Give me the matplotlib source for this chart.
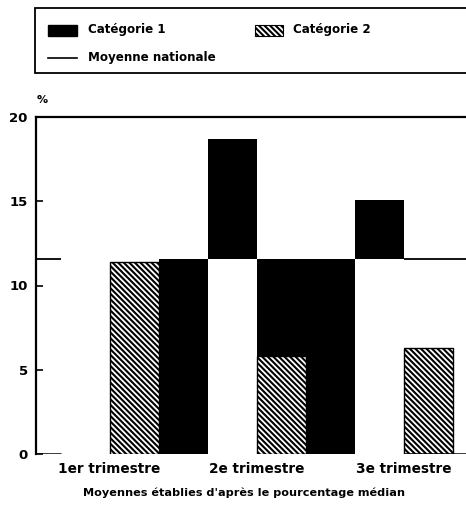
import matplotlib.pyplot as plt
from matplotlib.patches import Rectangle
from matplotlib.lines import Line2D

# Data
trimestres = ['1er trimestre', '2e trimestre', '3e trimestre']
categorie_1 = [11.6, 18.7, 15.1]
categorie_2 = [11.4, 5.8, 6.3]
moyenne_nationale = 11.6
y_ticks = [0, 5, 10, 15, 20]

plt.rcParams['font.family'] = 'DejaVu Sans'
plt.rcParams['font.weight'] = 'bold'
plt.rcParams['hatch.linewidth'] = 1.5

W, H = 466, 515
fig = plt.figure(figsize=(W / 100, H / 100), dpi=100)
ax = fig.add_axes([36 / W, 1 - 454 / H, 1 - 36 / W, (454 - 117) / H])

# one category every three bar widths
pos = [3 * i for i in range(len(trimestres))]
xmin, xmax = -1.5, 7.27
hatch = '\\\\\\\\\\\\'

# Catégorie 1 (black)
ax.bar(pos[0] + 1, categorie_1[0], width=1, align='edge', color='black', zorder=2)
for p, v in zip(pos[1:], categorie_1[1:]):
    ax.bar(p - 1, v - moyenne_nationale, bottom=moyenne_nationale, width=1,
           align='edge', color='black', zorder=2)
# solid block under the national average in the 2nd quarter
ax.bar(pos[1], moyenne_nationale, width=2, align='edge', color='black', zorder=2)

# Catégorie 2 (hatched)
ax.bar(pos, categorie_2, width=1, align='edge', facecolor='white',
       edgecolor='black', hatch=hatch, linewidth=1, zorder=3)

# Moyenne nationale and baseline fragments
ax.hlines(moyenne_nationale, xmin, xmin + 0.5, color='black', lw=1.3, zorder=4)
ax.hlines(moyenne_nationale, pos[2], xmax, color='black', lw=1.3, zorder=4)
ax.hlines(0, xmin, xmin + 0.5, color='black', lw=1.8, zorder=4)
ax.hlines(0, pos[2], xmax, color='black', lw=1.8, zorder=4)

ax.set_xlim(xmin, xmax)
ax.set_ylim(0, 20)
ax.set_yticks(y_ticks)
ax.set_yticklabels([str(t) for t in y_ticks], fontsize=9.5, fontweight='bold')
ax.set_xticks(pos)
ax.set_xticklabels(trimestres, fontsize=9.8, fontweight='bold')
ax.tick_params(axis='y', direction='in', length=5, width=1.2, pad=6)
ax.tick_params(axis='x', length=0, pad=6)

for s in ['bottom', 'right']:
    ax.spines[s].set_visible(False)
ax.spines['left'].set_linewidth(1.6)
ax.spines['top'].set_linewidth(1.6)

fig.text(37 / W, 1 - 100 / H, '%', fontsize=8, fontweight='bold', va='center')

# Legend box
fig.patches.append(Rectangle((35 / W, 1 - 73 / H), 440 / W, 65 / H, transform=fig.transFigure,
                             facecolor='white', edgecolor='black', lw=1.3))
fig.patches.append(Rectangle((48 / W, 1 - 36 / H), 29 / W, 11 / H, transform=fig.transFigure,
                             facecolor='black', edgecolor='black'))
fig.patches.append(Rectangle((255 / W, 1 - 36 / H), 28 / W, 11 / H, transform=fig.transFigure,
                             facecolor='white', edgecolor='black', hatch=hatch, lw=0.8))
fig.lines.append(Line2D([48 / W, 77 / W], [1 - 58 / H, 1 - 58 / H], transform=fig.transFigure,
                        color='black', lw=1.2))
fig.text(88 / W, 1 - 30 / H, 'Catégorie 1', fontsize=8.6, va='center')
fig.text(293 / W, 1 - 30 / H, 'Catégorie 2', fontsize=8.6, va='center')
fig.text(88 / W, 1 - 58 / H, 'Moyenne nationale', fontsize=8.6, va='center')

fig.text(244 / W, 1 - 493 / H, "Moyennes établies d'après le pourcentage médian",
         fontsize=8.1, ha='center', va='center')

fig.savefig('out.png', dpi=100, facecolor='white')
